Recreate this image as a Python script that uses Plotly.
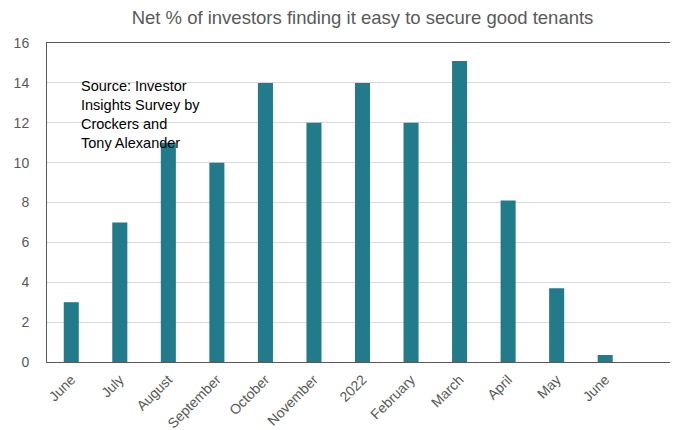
import plotly.graph_objects as go

# donnees
months = ["June", "July", "August", "September", "October", "November",
          "2022", "February", "March", "April", "May", "June"]
net_pct = [3, 7, 11, 10, 14, 12, 14, 12, 15.1, 8.1, 3.7, 0.35]
y_ticks = [0, 2, 4, 6, 8, 10, 12, 14, 16]

pos = list(range(len(months)))

fig = go.Figure()
fig.add_trace(go.Bar(x=pos, y=net_pct, width=0.31,
                     marker=dict(color="#217B8B", line=dict(width=0))))

# marges compensees pour la marge de 8px du body html
fig.update_layout(
    width=678, height=430,
    margin=dict(l=39, r=8, t=35, b=76),
    paper_bgcolor="white", plot_bgcolor="white",
    font=dict(family="Liberation Sans, Arial", size=14, color="#595959"),
    title=dict(text="Net % of investors finding it easy to secure good tenants",
               x=0.5, xref="paper", xanchor="center", y=0.977, yanchor="middle",
               font=dict(size=18.5, color="#595959")),
    showlegend=False,
    annotations=[dict(text="Source: Investor<br>Insights Survey by<br>Crockers and<br>Tony Alexander",
                      xref="paper", yref="paper", x=0.05, y=0.898,
                      xanchor="left", yanchor="top", align="left", showarrow=False,
                      font=dict(size=14.5, color="black"))],
)
fig.update_xaxes(range=[-0.5, len(months) + 0.5], tickvals=pos, ticktext=months,
                 tickangle=-45, showgrid=False, showline=True, linecolor="#595959",
                 mirror=True, ticks="", zeroline=False, automargin=False,
                 ticklabelstandoff=3)
fig.update_yaxes(range=[0, 16], tickvals=y_ticks, showgrid=True, gridcolor="#D9D9D9",
                 showline=True, linecolor="#595959", mirror=True, ticks="",
                 zeroline=False, automargin=False, ticklabelstandoff=14)

fig.write_html("out.html")
